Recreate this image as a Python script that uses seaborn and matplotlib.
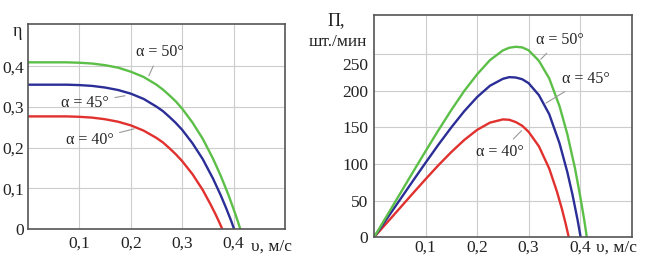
import matplotlib
matplotlib.use("Agg")
import matplotlib.pyplot as plt
import matplotlib.transforms as mtransforms
import pandas as pd
import seaborn as sns

# speed values (m/s) for each angle
v_40 = [0, 0.025, 0.05, 0.075, 0.1, 0.125, 0.15, 0.175, 0.2, 0.225, 0.25, 0.2625, 0.275,
        0.2875, 0.3, 0.32, 0.34, 0.355, 0.365, 0.372, 0.378]
v_45 = [0, 0.025, 0.05, 0.075, 0.1, 0.125, 0.15, 0.175, 0.2, 0.225, 0.25, 0.2625, 0.275,
        0.2875, 0.3, 0.32, 0.34, 0.36, 0.375, 0.385, 0.395, 0.401]
v_50 = [0, 0.025, 0.05, 0.075, 0.1, 0.125, 0.15, 0.175, 0.2, 0.225, 0.25, 0.2625, 0.275,
        0.2875, 0.3, 0.32, 0.34, 0.36, 0.375, 0.39, 0.40, 0.408, 0.413]

# efficiency eta
eta_40 = [0.277, 0.277, 0.277, 0.277, 0.276, 0.274, 0.270, 0.264, 0.255, 0.242, 0.224,
          0.213, 0.199, 0.184, 0.167, 0.135, 0.096, 0.061, 0.036, 0.017, 0.0]
eta_45 = [0.355, 0.355, 0.355, 0.355, 0.354, 0.352, 0.348, 0.342, 0.333, 0.320, 0.301,
          0.290, 0.276, 0.261, 0.244, 0.211, 0.172, 0.124, 0.083, 0.053, 0.021, 0.0]
eta_50 = [0.410, 0.410, 0.410, 0.410, 0.409, 0.407, 0.403, 0.397, 0.387, 0.374, 0.355,
          0.343, 0.329, 0.314, 0.296, 0.262, 0.222, 0.173, 0.131, 0.084, 0.049, 0.020, 0.0]

# productivity P (pcs/min)
prod_40 = [0, 19.9, 39.7, 59.6, 79.2, 98.3, 116.2, 132.6, 146.4, 156.3, 160.7, 160.2,
           157.1, 152.1, 143.8, 124.0, 93.7, 62.2, 37.7, 18.2, 0]
prod_45 = [0, 25.5, 50.9, 76.4, 101.6, 126.3, 149.8, 171.8, 191.1, 206.6, 216.0, 218.3,
           217.8, 215.5, 210.1, 193.8, 167.8, 128.1, 89.3, 58.6, 23.8, 0]
prod_50 = [0, 29.4, 58.8, 88.3, 117.4, 146.0, 173.5, 199.4, 222.1, 241.5, 254.7, 258.4,
           259.7, 258.9, 254.9, 240.6, 216.6, 178.7, 141.0, 94.0, 56.3, 23.4, 0]

colors = {"40": "#e0312e", "45": "#2b2e96", "50": "#5cbf48"}

x_ticks = [0.1, 0.2, 0.3, 0.4]
x_labels = ["0,1", "0,2", "0,3", "0,4"]
eta_ticks = [0, 0.1, 0.2, 0.3, 0.4]
eta_labels = ["0", "0,1", "0,2", "0,3", "0,4"]
prod_ticks = [0, 50, 100, 150, 200, 250]
prod_labels = ["0", "50", "100", "150", "200", "250"]

rows = []
for a, vs, es, ps in [("40", v_40, eta_40, prod_40), ("45", v_45, eta_45, prod_45),
                      ("50", v_50, eta_50, prod_50)]:
    for v, e, p in zip(vs, es, ps):
        rows.append({"alpha": a, "v": v, "eta": e, "prod": p})
df = pd.DataFrame(rows)

sns.set_style("white")
plt.rcParams["font.family"] = ["Liberation Serif", "DejaVu Serif"]

fig = plt.figure(figsize=(6.49, 2.68), dpi=100)
ax1 = fig.add_axes([0.0431, 0.1455, 0.3960, 0.7645])
ax2 = fig.add_axes([0.5763, 0.1145, 0.3970, 0.8295])

sns.lineplot(data=df, x="v", y="eta", hue="alpha", palette=colors, ax=ax1,
             legend=False, linewidth=1.7, sort=False)
sns.lineplot(data=df, x="v", y="prod", hue="alpha", palette=colors, ax=ax2,
             legend=False, linewidth=1.7, sort=False)

ax1.set_xlim(0, 0.5)
ax1.set_ylim(0, 0.504)
ax2.set_xlim(0, 0.5)
ax2.set_ylim(0, 303)

for ax in (ax1, ax2):
    ax.set_xticks(x_ticks)
    ax.set_xticklabels(x_labels)
    ax.set_xlabel("")
    ax.set_ylabel("")
    ax.grid(True, color="#cccccc", linewidth=0.8)
    ax.set_axisbelow(True)
    ax.tick_params(length=0, labelsize=12.5, colors="#222222")
    for s in ax.spines.values():
        s.set_color("#555555")
        s.set_linewidth(1.2)

ax1.set_yticks(eta_ticks)
ax1.set_yticklabels(eta_labels)
ax1.tick_params(axis="x", pad=5)
ax1.tick_params(axis="y", pad=3)
ax2.set_yticks(prod_ticks)
ax2.set_yticklabels(prod_labels)
ax2.tick_params(axis="x", pad=2)
ax2.tick_params(axis="y", pad=4)

# the top label sits a bit lower in the original, under the unit caption
top_lbl = ax2.get_yticklabels()[-1]
top_lbl.set_transform(top_lbl.get_transform() +
                      mtransforms.ScaledTranslation(0, -7 / 72, fig.dpi_scale_trans))

# axis captions
fig.text(0.034, 0.881, "η", ha="right", va="center", fontsize=13, color="#222222")
fig.text(0.418, 0.078, "υ, м/с", ha="center", va="center", fontsize=12.5, color="#222222")
fig.text(0.532, 0.922, "П,", ha="right", va="center", fontsize=13, color="#222222")
fig.text(0.566, 0.842, "шт./мин", ha="right", va="center", fontsize=12.5, color="#222222")
fig.text(0.950, 0.075, "υ, м/с", ha="center", va="center", fontsize=12.5, color="#222222")

# curve labels with leader lines
leader = dict(arrowstyle="-", color="#999999", lw=0.8)
ax1.annotate("α = 50°", xy=(0.233, 0.371), xytext=(0.256, 0.435), ha="center",
             va="center", fontsize=11.5, arrowprops=leader)
ax1.annotate("α = 45°", xy=(0.194, 0.329), xytext=(0.111, 0.310), ha="center",
             va="center", fontsize=11.5, arrowprops=leader)
ax1.annotate("α = 40°", xy=(0.212, 0.248), xytext=(0.120, 0.219), ha="center",
             va="center", fontsize=11.5, arrowprops=leader)
ax2.annotate("α = 50°", xy=(0.320, 240), xytext=(0.360, 269), ha="center",
             va="center", fontsize=11.5, arrowprops=leader)
ax2.annotate("α = 45°", xy=(0.329, 181), xytext=(0.411, 216), ha="center",
             va="center", fontsize=11.5, arrowprops=leader)
ax2.annotate("α = 40°", xy=(0.290, 148), xytext=(0.245, 116), ha="center",
             va="center", fontsize=11.5, arrowprops=leader)

fig.savefig("out.png", dpi=100)
